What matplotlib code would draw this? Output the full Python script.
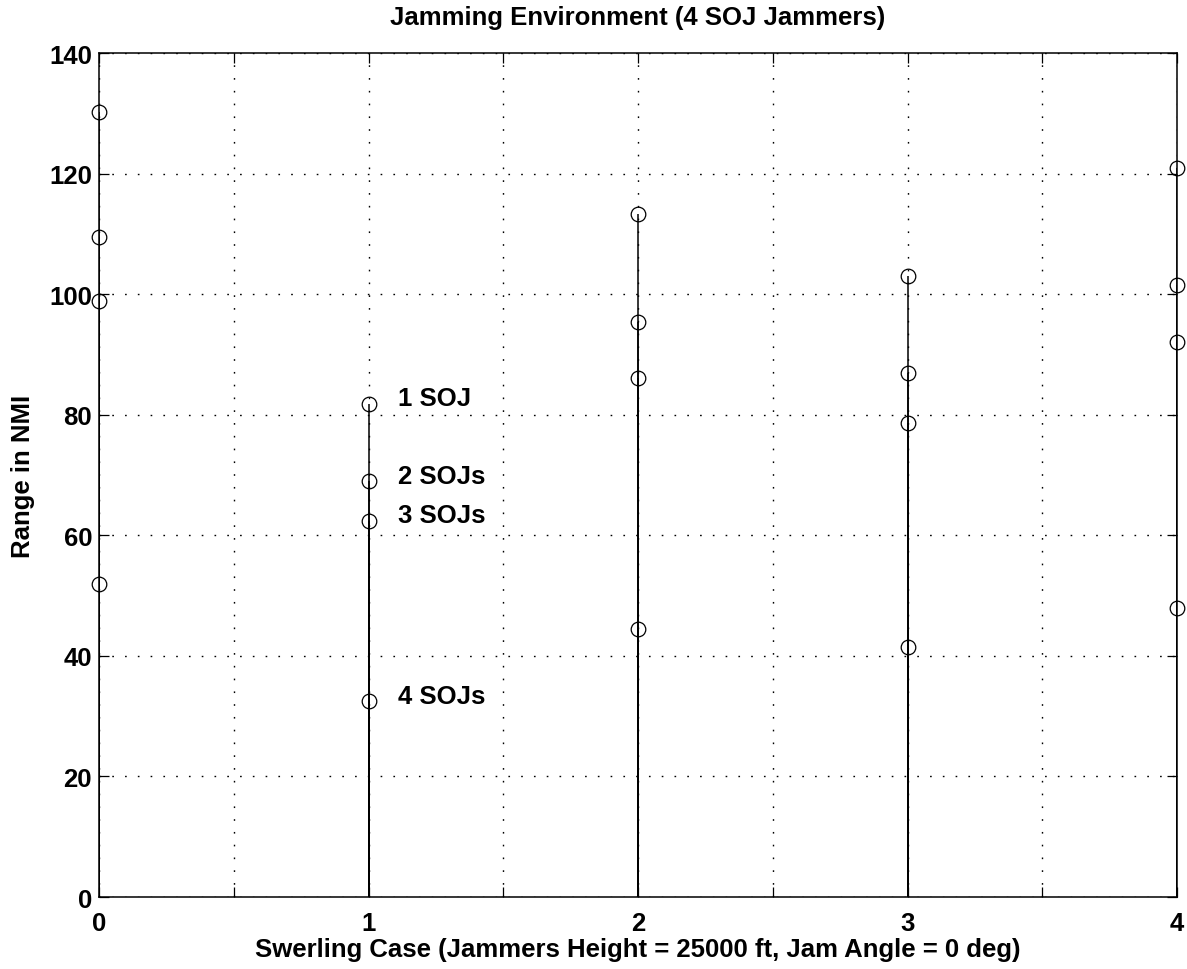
import matplotlib.pyplot as plt
import numpy as np

# Swerling cases on the x axis
cases = [0, 1, 2, 3, 4]

# detection range (NMI) per number of SOJ jammers
one_soj = [130.2, 81.8, 113.3, 103.0, 121.0]
two_sojs = [109.5, 69.0, 95.4, 86.9, 101.5]
three_sojs = [98.9, 62.4, 86.1, 78.6, 92.0]
four_sojs = [51.9, 32.5, 44.5, 41.4, 48.0]
series_labels = ["1 SOJ", "2 SOJs", "3 SOJs", "4 SOJs"]

x_ticks = [0, 0.5, 1, 1.5, 2, 2.5, 3, 3.5, 4]
x_tick_labels = ["0", "", "1", "", "2", "", "3", "", "4"]
y_ticks = [0, 20, 40, 60, 80, 100, 120, 140]

plt.rcParams["font.family"] = ["Liberation Sans", "DejaVu Sans"]
plt.rcParams["font.weight"] = "bold"

fig = plt.figure(figsize=(11.87, 9.70), dpi=100)
ax = fig.add_axes([0.0834, 0.0742, 0.9082, 0.8701])

all_series = [one_soj, two_sojs, three_sojs, four_sojs]
for vals in all_series:
    markers, stems, base = ax.stem(cases, vals, linefmt="k-", markerfmt="ko",
                                   basefmt=" ")
    markers.set_markerfacecolor("none")
    markers.set_markersize(10.5)
    markers.set_markeredgewidth(0.9)
    stems.set_linewidth(1.1)
    markers.set_clip_on(False)

# labels next to the case 1 stem
for lab, vals in zip(series_labels, all_series):
    ax.text(cases[1] + 0.11, vals[1] + 0.9, lab, fontsize=18.5, fontweight="bold",
            ha="left", va="center")

ax.set_xlim(0, 4)
ax.set_ylim(0, 140)
ax.set_xticks(x_ticks)
ax.set_xticklabels(x_tick_labels)
ax.set_yticks(y_ticks)

ax.grid(True, color="black", linewidth=1.0, linestyle=(0, (1.2, 8)))
ax.tick_params(direction="in", length=7.5, width=0.9, top=True, right=True,
               labelsize=18.5)
ax.tick_params(axis="x", pad=10)
ax.tick_params(axis="y", pad=5)
for sp in ax.spines.values():
    sp.set_linewidth(1.1)

fig.text(0.5375, 1 - 18 / 970, "Jamming Environment (4 SOJ Jammers)",
         fontsize=18.5, fontweight="bold", ha="center", va="center")
ax.set_xlabel("Swerling Case (Jammers Height = 25000 ft, Jam Angle = 0 deg)",
              fontsize=18.5, fontweight="bold", va="center")
ax.xaxis.set_label_coords(0.5, -0.0616)
ax.set_ylabel("Range in NMI", fontsize=18.5, fontweight="bold", va="center")
ax.yaxis.set_label_coords(-0.0705, 0.5)

plt.savefig("out.png", dpi=100, facecolor="white")
plt.close()
